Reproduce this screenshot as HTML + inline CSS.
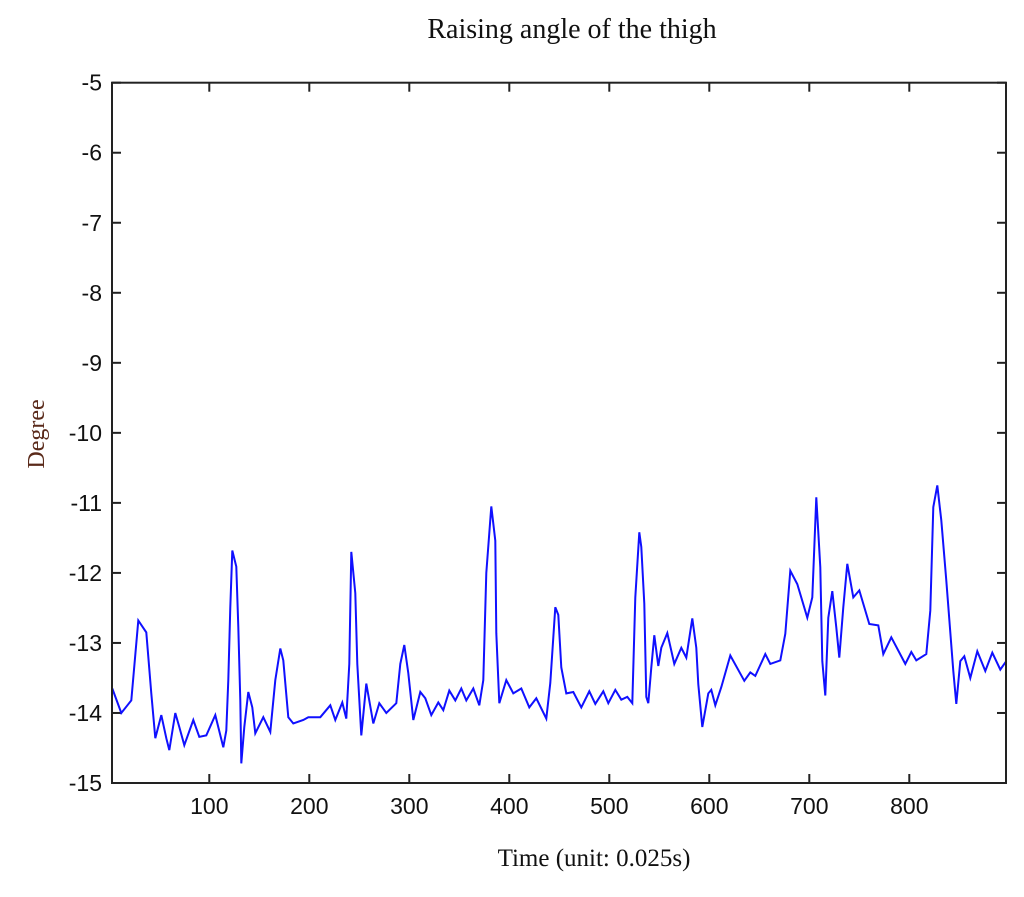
<!DOCTYPE html>
<html><head><meta charset="utf-8"><style>
body{margin:0;background:#fff;width:1024px;height:892px;overflow:hidden}
text{font-family:"Liberation Sans",sans-serif}
</style></head><body>
<svg id="chart" width="1024" height="892">
<text x="572" y="38" text-anchor="middle" style="font-family:'Liberation Serif',serif;font-size:28px" fill="#111">Raising angle of the thigh</text>
<text transform="translate(44,434) rotate(-90)" text-anchor="middle" style="font-family:'Liberation Serif',serif;font-size:24px" fill="#5a2a1a">Degree</text>
<text x="594" y="866" text-anchor="middle" style="font-family:'Liberation Serif',serif;font-size:25px" fill="#111">Time  (unit: 0.025s)</text>
<g id="axes"></g>
<path id="line" fill="none" stroke="#1010ff" stroke-width="2"/>
<rect x="112" y="82.7" width="894" height="700.3" fill="none" stroke="#222" stroke-width="2"/>
</svg>
<script>
const xTicks=[100,200,300,400,500,600,700,800];
const yTicks=[-5,-6,-7,-8,-9,-10,-11,-12,-13,-14,-15];
const times=[3,12,22,29,37,42,46,52,57,60,66,70,75,84,90,97,106,114,117,119,121,123,127,129,131,132,135,139,143,146,154,161,166,171,174,179,184,194,199,211,221,226,233,237,240,242,246,248,252,257,264,270,277,287,291,295,299,304,311,316,322,329,334,340,346,352,357,364,370,374,377,382,386,387,390,397,404,412,420,427,437,441,446,449,452,457,464,472,480,486,494,499,506,512,518,523,526,530,532,535,537,539,542,545,549,552,558,565,572,577,583,587,589,593,599,602,606,612,621,635,641,646,656,661,671,676,681,688,698,703,707,711,713,716,719,723,727,730,734,738,744,750,760,769,774,782,796,802,807,817,821,824,828,832,837,844,847,851,855,861,868,876,883,891,897];
const degrees=[-13.65,-14.0,-13.82,-12.68,-12.85,-13.72,-14.36,-14.03,-14.36,-14.53,-14.0,-14.2,-14.46,-14.1,-14.34,-14.32,-14.03,-14.49,-14.25,-13.53,-12.49,-11.68,-11.91,-12.77,-13.82,-14.72,-14.2,-13.7,-13.92,-14.29,-14.06,-14.27,-13.53,-13.08,-13.25,-14.06,-14.15,-14.1,-14.06,-14.06,-13.89,-14.1,-13.85,-14.08,-13.3,-11.7,-12.29,-13.3,-14.32,-13.58,-14.15,-13.86,-14.0,-13.86,-13.3,-13.03,-13.43,-14.1,-13.7,-13.79,-14.03,-13.85,-13.96,-13.68,-13.82,-13.65,-13.82,-13.65,-13.89,-13.53,-12.0,-11.05,-11.54,-12.86,-13.86,-13.53,-13.72,-13.65,-13.92,-13.79,-14.08,-13.57,-12.49,-12.6,-13.35,-13.72,-13.7,-13.92,-13.69,-13.87,-13.69,-13.86,-13.67,-13.81,-13.77,-13.86,-12.35,-11.42,-11.63,-12.44,-13.77,-13.86,-13.35,-12.89,-13.33,-13.07,-12.86,-13.3,-13.07,-13.21,-12.65,-13.07,-13.59,-14.2,-13.72,-13.67,-13.89,-13.63,-13.18,-13.54,-13.42,-13.47,-13.16,-13.3,-13.25,-12.87,-11.97,-12.16,-12.64,-12.35,-10.92,-11.92,-13.26,-13.75,-12.64,-12.26,-12.78,-13.21,-12.49,-11.87,-12.35,-12.25,-12.73,-12.75,-13.16,-12.92,-13.3,-13.13,-13.25,-13.16,-12.54,-11.06,-10.75,-11.25,-12.11,-13.4,-13.87,-13.26,-13.19,-13.5,-13.12,-13.4,-13.14,-13.38,-13.26];
const X0=112,X1=1006,Y0=783,Y1=82.7,xMin=2.7,xMax=896.7,yMin=-15,yMax=-5;
function sx(v){return X0+(v-xMin)/(xMax-xMin)*(X1-X0);}
function sy(v){return Y0-(v-yMin)/(yMax-yMin)*(Y0-Y1);}
const NS='http://www.w3.org/2000/svg';
const g=document.getElementById('axes');
function mk(tag,attrs){const e=document.createElementNS(NS,tag);for(const k in attrs)e.setAttribute(k,attrs[k]);g.appendChild(e);return e;}
xTicks.forEach(t=>{
  const x=sx(t);
  const a=mk('line',{x1:x,x2:x,y1:Y0,y2:Y0-9,stroke:'#222','stroke-width':2});
  
  
  const b=mk('line',{x1:x,x2:x,y1:Y1,y2:Y1+9,stroke:'#222','stroke-width':2});
  
  
  const l=mk('text',{x:x,y:814,'text-anchor':'middle','font-size':'23px',fill:'#111'});
  l.textContent=t;
  
  
});
yTicks.forEach(t=>{
  const y=sy(t);
  const a=mk('line',{x1:X0,x2:X0+9,y1:y,y2:y,stroke:'#222','stroke-width':2});
  
  
  const b=mk('line',{x1:X1,x2:X1-9,y1:y,y2:y,stroke:'#222','stroke-width':2});
  
  
  const l=mk('text',{x:102,y:y+8,'text-anchor':'end','font-size':'23px',fill:'#111'});
  l.textContent=t;
  
  
});
document.getElementById('line').setAttribute('d',times.map((t,i)=>(i?'L':'M')+sx(t).toFixed(1)+' '+sy(degrees[i]).toFixed(1)).join(' '));
</script>
</body></html>
